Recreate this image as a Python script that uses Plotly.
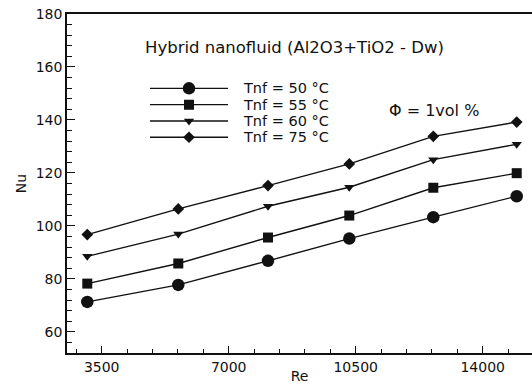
import plotly.graph_objects as go

# Data
re_vals = [3103, 5611, 8084, 10324, 12639, 14938]
nu_50 = [71.3, 77.7, 86.8, 95.2, 103.3, 111.2]
nu_55 = [78.2, 85.8, 95.6, 103.9, 114.4, 119.9]
nu_60 = [88.5, 96.9, 107.4, 114.6, 125.0, 130.8]
nu_75 = [96.7, 106.4, 115.2, 123.4, 133.8, 139.2]
series_names = ["Tnf = 50 °C", "Tnf = 55 °C", "Tnf = 60 °C", "Tnf = 75 °C"]
series_vals = [nu_50, nu_55, nu_60, nu_75]
symbols = ["circle", "square", "triangle-down", "diamond"]
sizes = [12.5, 10, 9, 9]
x_ticks = [3500, 7000, 10500, 14000]
y_ticks = [60, 80, 100, 120, 140, 160, 180]

FONT = "DejaVu Sans"
INK = "#111111"

fig = go.Figure()
for name, vals, sym, sz in zip(series_names, series_vals, symbols, sizes):
    fig.add_trace(go.Scatter(
        x=re_vals, y=vals, mode="lines+markers", name=name,
        line=dict(color=INK, width=1.4),
        marker=dict(symbol=sym, size=sz, color=INK, line=dict(width=0)),
        showlegend=False,
    ))

# hand-made legend keys on an inset axis
for i, (sym, sz) in enumerate(zip(symbols, sizes)):
    fig.add_trace(go.Scatter(
        x=[0, 1], y=[i, i], mode="lines",
        line=dict(color=INK, width=1.4),
        xaxis="x2", yaxis="y2", showlegend=False, hoverinfo="skip",
    ))
    fig.add_trace(go.Scatter(
        x=[0.5], y=[i], mode="markers",
        marker=dict(symbol=sym, size=sz, color=INK, line=dict(width=0)),
        xaxis="x2", yaxis="y2", showlegend=False, hoverinfo="skip",
    ))

W, H = 532, 384
ml, mr, mt, mb = 67, 0, 14, 31
pw, ph = W - ml - mr, H - mt - mb

def px(x):
    return (x - ml) / pw

def py(y):
    return (H - mb - y) / ph

annotations = []
for i, name in enumerate(series_names):
    annotations.append(dict(
        text=name, x=px(241), y=i, xref="paper", yref="y2",
        xanchor="left", yanchor="middle", showarrow=False,
        font=dict(family=FONT, size=14.5, color=INK),
    ))
annotations.append(dict(
    text="Hybrid nanofluid (Al2O3+TiO2 - Dw)", x=px(294.5), y=py(48),
    xref="paper", yref="paper", xanchor="center", yanchor="middle",
    showarrow=False, font=dict(family=FONT, size=16.5, color=INK),
))
annotations.append(dict(
    text="Φ = 1vol %", x=px(433.5), y=py(110),
    xref="paper", yref="paper", xanchor="center", yanchor="middle",
    showarrow=False, font=dict(family=FONT, size=16, color=INK),
))

fig.update_layout(
    width=W, height=H,
    margin=dict(l=ml, r=mr, t=mt, b=mb, autoexpand=False),
    paper_bgcolor="white", plot_bgcolor="rgba(0,0,0,0)",
    font=dict(family=FONT, size=14, color=INK),
    annotations=annotations,
    xaxis=dict(
        range=[2544, 15359], tickmode="array", tickvals=x_ticks,
        ticktext=[str(v) for v in x_ticks],
        ticks="inside", ticklen=7, tickwidth=1.3, tickcolor=INK,
        minor=dict(dtick=700, tick0=0, ticks="inside", ticklen=4, tickcolor=INK, tickwidth=1),
        showline=True, linecolor=INK, linewidth=1.5, mirror=True,
        showgrid=False, zeroline=False, automargin=False, layer="above traces",
        title=dict(text="Re", font=dict(family=FONT, size=14, color=INK), standoff=2),
        tickfont=dict(family=FONT, size=14, color=INK),
    ),
    yaxis=dict(
        range=[52, 180], tickmode="array", tickvals=y_ticks,
        ticks="inside", ticklen=8, tickwidth=1.3, tickcolor=INK,
        minor=dict(dtick=4, tick0=0, ticks="inside", ticklen=5, tickcolor=INK, tickwidth=1),
        showline=True, linecolor=INK, linewidth=1.5,
        showgrid=False, zeroline=False, automargin=False, layer="above traces",
        title=dict(text="Nu", font=dict(family=FONT, size=14, color=INK), standoff=6),
        tickfont=dict(family=FONT, size=14, color=INK),
    ),
    xaxis2=dict(domain=[px(150), px(228)], range=[0, 1], visible=False, anchor="y2"),
    yaxis2=dict(domain=[py(145.4), py(80.2)], range=[3.5, -0.5], visible=False, anchor="x2"),
)

fig.write_html(
    "out.html",
    config={"displayModeBar": False},
    post_script="document.body.style.margin='0';document.body.style.padding='0';",
)
